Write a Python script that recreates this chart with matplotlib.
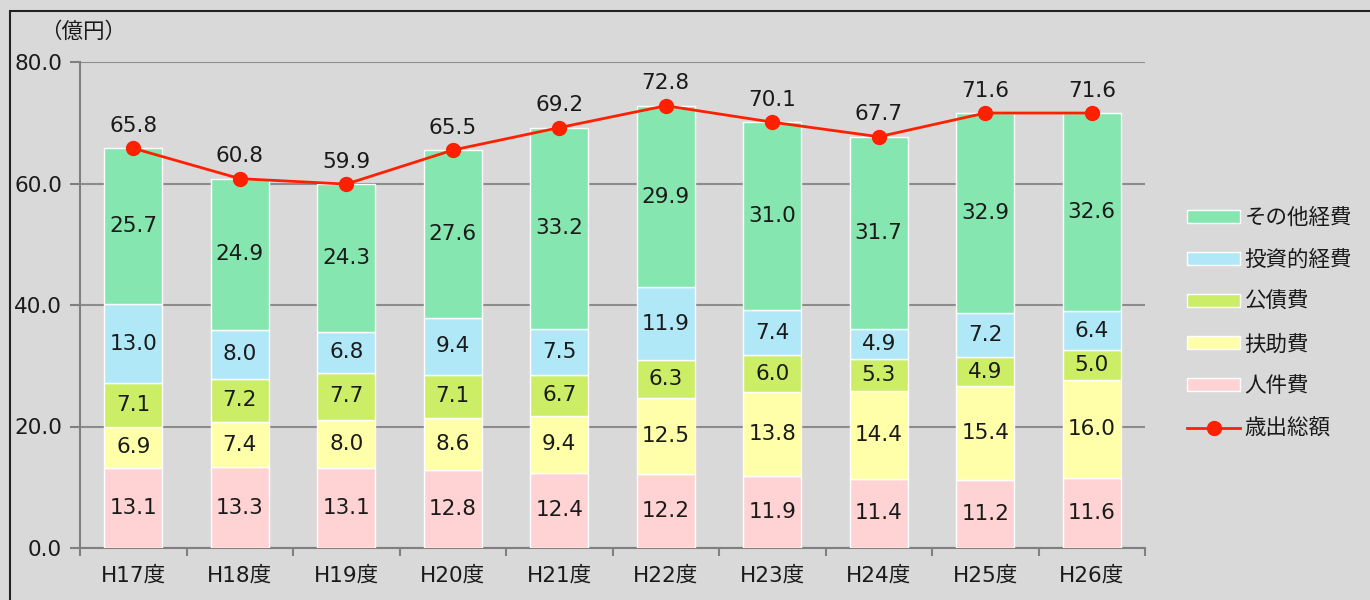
import numpy as np
import matplotlib.pyplot as plt
from matplotlib.patches import Rectangle
from matplotlib.lines import Line2D
from matplotlib.ticker import FixedLocator, FormatStrFormatter

plt.rcParams['font.family'] = ['DejaVu Sans', 'Noto Sans CJK JP']

# データ
years = ['H17度', 'H18度', 'H19度', 'H20度', 'H21度', 'H22度', 'H23度', 'H24度', 'H25度', 'H26度']
jinken = [13.1, 13.3, 13.1, 12.8, 12.4, 12.2, 11.9, 11.4, 11.2, 11.6]
fujo = [6.9, 7.4, 8.0, 8.6, 9.4, 12.5, 13.8, 14.4, 15.4, 16.0]
kousai = [7.1, 7.2, 7.7, 7.1, 6.7, 6.3, 6.0, 5.3, 4.9, 5.0]
toushi = [13.0, 8.0, 6.8, 9.4, 7.5, 11.9, 7.4, 4.9, 7.2, 6.4]
sonota = [25.7, 24.9, 24.3, 27.6, 33.2, 29.9, 31.0, 31.7, 32.9, 32.6]
total = [65.8, 60.8, 59.9, 65.5, 69.2, 72.8, 70.1, 67.7, 71.6, 71.6]

series = [
    ('人件費', jinken, '#FFD3D3'),
    ('扶助費', fujo, '#FFFFAA'),
    ('公債費', kousai, '#CCEE66'),
    ('投資的経費', toushi, '#B0E8F8'),
    ('その他経費', sonota, '#86E6B0'),
]
line_color = '#FF2000'
bg = '#D9D9D9'
fs = 15.5

fig = plt.figure(figsize=(13.7, 6), dpi=100)
fig.patch.set_facecolor(bg)
ax = fig.add_axes([80 / 1370, 52 / 600, 1065 / 1370, 486 / 600])
ax.set_facecolor(bg)

x = np.arange(len(years))
bottom = np.zeros(len(years))
handles = {}
for name, vals, col in series:
    vals = np.array(vals)
    b = ax.bar(x, vals, bottom=bottom, width=0.545, color=col,
               edgecolor='white', linewidth=1, zorder=3)
    handles[name] = b
    for xi, v, bt in zip(x, vals, bottom):
        ax.text(xi, bt + v / 2, f'{v:.1f}', ha='center', va='center',
                fontsize=fs, color='#1a1a1a', zorder=5)
    bottom += vals

ax.plot(x, total, color=line_color, linewidth=2, marker='o', markersize=10,
        zorder=6)
for xi, t in zip(x, total):
    ax.annotate(f'{t:.1f}', (xi, t), xytext=(0, 9), textcoords='offset points',
                ha='center', va='bottom', fontsize=fs, color='#1a1a1a', zorder=7)

ax.set_xlim(-0.5, 9.5)
ax.set_ylim(0, 80)
ax.set_xticks(x)
ax.set_xticklabels(years, fontsize=fs)
ax.xaxis.set_minor_locator(FixedLocator(np.arange(-0.5, 10, 1)))
ax.tick_params(axis='x', which='major', length=0, pad=13, labelcolor='#1a1a1a')
ax.tick_params(axis='x', which='minor', length=6, width=1.5, color='#808080')
ax.set_yticks([0, 20, 40, 60, 80])
ax.yaxis.set_major_formatter(FormatStrFormatter('%.1f'))
ax.tick_params(axis='y', length=7, width=1.5, color='#808080', labelsize=fs,
               labelcolor='#1a1a1a', pad=6)
ax.yaxis.grid(True, color='#8c8c8c', linewidth=1.5, zorder=0)
ax.set_axisbelow(True)
for s in ['top', 'right']:
    ax.spines[s].set_visible(False)
for s in ['left', 'bottom']:
    ax.spines[s].set_color('#808080')
    ax.spines[s].set_linewidth(1.5)

fig.text(40 / 1370, 1 - 32 / 600, '（億円）', fontsize=fs, ha='left', va='center',
         color='#1a1a1a')

# 凡例
order = ['その他経費', '投資的経費', '公債費', '扶助費', '人件費']
leg_handles = [handles[n] for n in order]
leg_handles.append(Line2D([], [], color=line_color, linewidth=2, marker='o', markersize=10))
leg = fig.legend(leg_handles, order + ['歳出総額'], loc='upper left',
                 bbox_to_anchor=(1168 / 1370, 1 - 188 / 600), frameon=False,
                 fontsize=fs, handlelength=2.45, handleheight=0.55,
                 labelspacing=1.02, handletextpad=0.2)
for t in leg.get_texts():
    t.set_color('#1a1a1a')

# 外枠
fig.add_artist(Rectangle((10 / 1370, -0.05), 1.2, 1 - 11 / 600 + 0.05,
                         transform=fig.transFigure, fill=False,
                         edgecolor='#222222', linewidth=1.5))

fig.savefig('out.png', dpi=100, facecolor=fig.get_facecolor())
